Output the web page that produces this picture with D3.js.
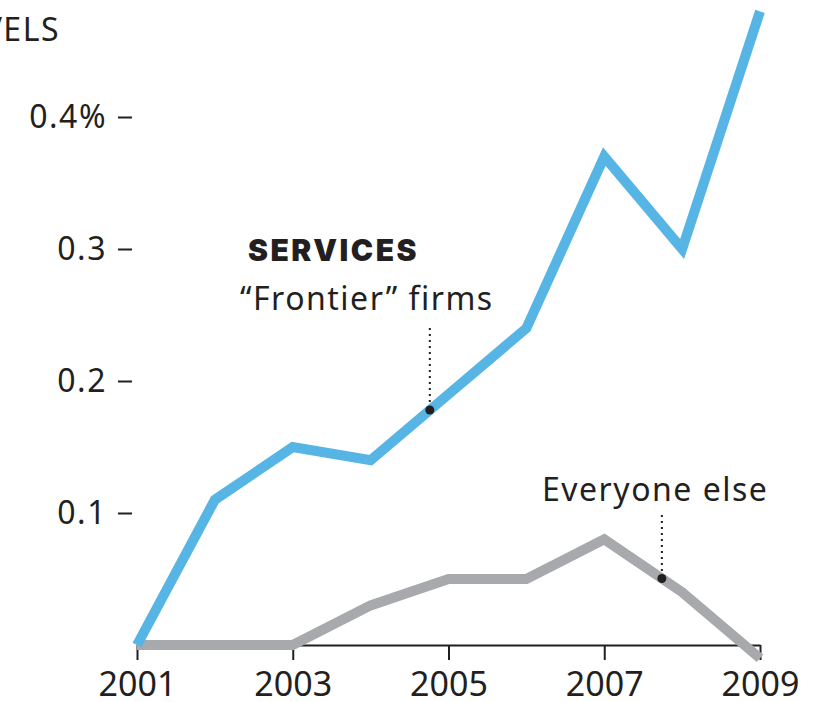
<!DOCTYPE html>
<html>
<head>
<meta charset="utf-8">
<script src="https://cdn.jsdelivr.net/npm/d3@7"></script>
<style>
  html, body { margin: 0; padding: 0; background: #fff; }
  svg { display: block; }
  text { font-family: "Noto Sans", "Open Sans", sans-serif; fill: #231f20; }
</style>
</head>
<body>
<svg id="chart" width="824" height="702"></svg>
<script>
// ---- data ----
const years = [2001, 2002, 2003, 2004, 2005, 2006, 2007, 2008, 2009];
const frontier = [0, 0.11, 0.15, 0.14, 0.19, 0.24, 0.37, 0.30, 0.48];
const everyoneElse = [0, 0, 0, 0.03, 0.05, 0.05, 0.08, 0.04, -0.01];
const xTickValues = [2001, 2003, 2005, 2007, 2009];
const yTickValues = [0.1, 0.2, 0.3, 0.4];
const yTickLabels = ["0.1", "0.2", "0.3", "0.4%"];
const seriesNames = ["SERVICES", "\u201CFrontier\u201D firms", "Everyone else"];
const annotationYears = [2004.76, 2007.74];
const topLabel = "LEVELS";

// ---- layout ----
const svg = d3.select("#chart");
const x = d3.scaleLinear().domain([2001, 2009]).range([137, 760]);
const y = d3.scaleLinear().domain([0, 0.4]).range([645, 117]);
const blue = "#56b5e5";
const gray = "#a8a9ad";
const ink = "#231f20";

// top cut-off label
svg.append("text").attr("x", 60).attr("y", 41)
  .attr("text-anchor", "end").attr("font-size", 32)
  .attr("letter-spacing", 1.5).text(topLabel);

// y axis
const yAxis = d3.axisLeft(y).tickValues(yTickValues)
  .tickFormat((d, i) => yTickLabels[i]).tickSize(16).tickPadding(11);
const gy = svg.append("g").attr("transform", "translate(134,0)").call(yAxis);
gy.select(".domain").remove();
gy.selectAll(".tick line").attr("stroke", ink).attr("stroke-width", 2).attr("x1", -2);
gy.selectAll(".tick text").attr("font-size", 32).attr("letter-spacing", 1.5)
  .attr("fill", ink).style("font-family", "'Noto Sans', sans-serif");

// x axis
const xAxis = d3.axisBottom(x).tickValues(xTickValues).tickFormat(d3.format("d"))
  .tickSize(15).tickSizeOuter(0).tickPadding(12);
const gx = svg.append("g").attr("transform", `translate(0,${y(0)})`).call(xAxis);
gx.select(".domain").attr("stroke", ink).attr("stroke-width", 2);
gx.selectAll(".tick line").attr("stroke", ink).attr("stroke-width", 2);
gx.selectAll(".tick text").attr("font-size", 34)
  .attr("fill", ink).style("font-family", "'Noto Sans', sans-serif");

// lines
const line = d3.line().x((d, i) => x(years[i])).y(d => y(d));
svg.append("path").datum(everyoneElse).attr("d", line)
  .attr("fill", "none").attr("stroke", gray).attr("stroke-width", 10)
  .attr("stroke-linejoin", "miter").attr("stroke-linecap", "butt");
svg.append("path").datum(frontier).attr("d", line)
  .attr("fill", "none").attr("stroke", blue).attr("stroke-width", 10)
  .attr("stroke-linejoin", "miter").attr("stroke-linecap", "butt");

// annotations
function interp(series, yr) {
  const i = Math.floor(yr - years[0]);
  const t = yr - years[i];
  return series[i] + (series[i + 1] - series[i]) * t;
}
const annFrontierX = x(annotationYears[0]);
const annFrontierY = y(interp(frontier, annotationYears[0]));
const annElseX = x(annotationYears[1]);
const annElseY = y(interp(everyoneElse, annotationYears[1]));

svg.append("line").attr("x1", annFrontierX).attr("x2", annFrontierX)
  .attr("y1", 328).attr("y2", annFrontierY)
  .attr("stroke", ink).attr("stroke-width", 2).attr("stroke-dasharray", "2,4");
svg.append("circle").attr("cx", annFrontierX).attr("cy", annFrontierY).attr("r", 4.5).attr("fill", ink);

svg.append("line").attr("x1", annElseX).attr("x2", annElseX)
  .attr("y1", 515).attr("y2", annElseY)
  .attr("stroke", ink).attr("stroke-width", 2).attr("stroke-dasharray", "2,4");
svg.append("circle").attr("cx", annElseX).attr("cy", annElseY).attr("r", 4.5).attr("fill", ink);

svg.append("text").attr("x", 248).attr("y", 261)
  .attr("font-size", 30).attr("font-weight", 900).attr("letter-spacing", 2.5)
  .style("font-family", "Inter, 'Noto Sans', sans-serif").text(seriesNames[0]);
svg.append("text").attr("x", 240).attr("y", 310)
  .attr("font-size", 32).attr("letter-spacing", 1.5).text(seriesNames[1]);
svg.append("text").attr("x", 542).attr("y", 501)
  .attr("font-size", 32).attr("letter-spacing", 1.5).text(seriesNames[2]);
</script>
</body>
</html>
